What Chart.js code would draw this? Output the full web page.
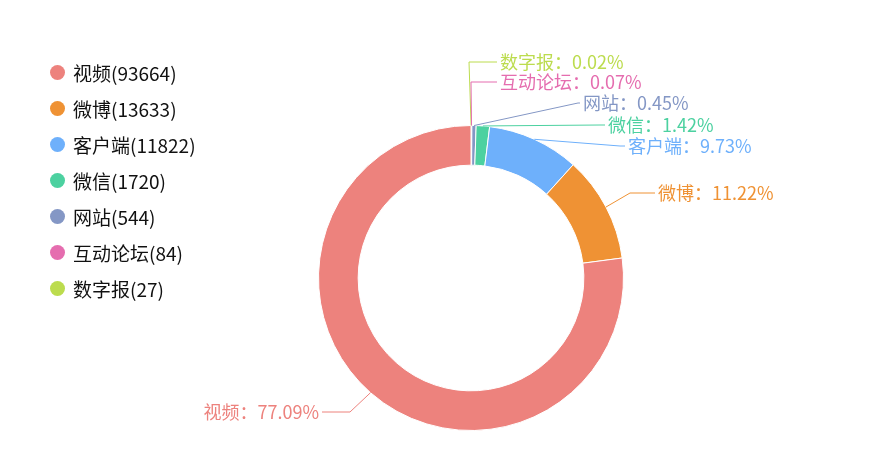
<!DOCTYPE html>
<html><head><meta charset="utf-8">
<script src="https://cdn.jsdelivr.net/npm/chart.js@4"></script>
<style>
body{margin:0;background:#fff;font-family:"Noto Sans CJK SC",sans-serif}
#wrap{position:relative;width:879px;height:470px}
#legend{position:absolute;left:50px;top:54px;font-size:19px;color:#111}
#legend div{height:36px;display:flex;align-items:center}
#legend span.dot{width:15px;height:15px;border-radius:50%;display:inline-block;margin-right:8px}
</style></head>
<body><div id="wrap"><canvas id="c" width="879" height="470"></canvas><div id="legend"></div></div>
<script>
const categories=["视频","微博","客户端","微信","网站","互动论坛","数字报"];
const values=[93664,13633,11822,1720,544,84,27];
const percents=["77.09%","11.22%","9.73%","1.42%","0.45%","0.07%","0.02%"];
const colors=["#ED827D","#EF9234","#6EB0FB","#4CD1A0","#8497C5","#E56DAF","#BCDC4E"];
const labelLayout=[
 {elbow:[350,412],end:[322,412],align:"right"},
 {elbow:[630,193],end:[655,193],align:"left"},
 {elbow:[620,146],end:[625,146],align:"left"},
 {elbow:[600,125],end:[605,125],align:"left"},
 {elbow:[578,103],end:[580,103],align:"left"},
 {elbow:[471,82],end:[497,82],align:"left"},
 {elbow:[469,62],end:[497,62],align:"left"}
];
const lg=document.getElementById('legend');
categories.forEach((c,i)=>{const d=document.createElement('div');d.innerHTML=`<span class="dot" style="background:${colors[i]}"></span>${c}(${values[i]})`;lg.appendChild(d);});
// drawn clockwise from top in reverse order
const order=categories.map((_,i)=>categories.length-1-i);
const labelPlugin={id:'lbl',afterDraw(chart){
 const ctx=chart.ctx;const meta=chart.getDatasetMeta(0);
 ctx.save();ctx.font='18px "Noto Sans CJK SC"';ctx.textBaseline='middle';ctx.lineWidth=1;
 meta.data.forEach((arc,j)=>{
  const i=order[j];
  const a=(arc.startAngle+arc.endAngle)/2;const r=arc.outerRadius;
  const p0=[arc.x+Math.cos(a)*r,arc.y+Math.sin(a)*r];
  const L=labelLayout[i];ctx.strokeStyle=colors[i];ctx.fillStyle=colors[i];
  ctx.beginPath();ctx.moveTo(...p0);ctx.lineTo(...L.elbow);ctx.lineTo(...L.end);ctx.stroke();
  ctx.textAlign=L.align;ctx.fillText(categories[i]+"："+percents[i],L.end[0]+(L.align==='left'?3:-3),L.end[1]);
 });ctx.restore();}};
new Chart(document.getElementById('c'),{type:'doughnut',
 data:{labels:order.map(i=>categories[i]),datasets:[{data:order.map(i=>values[i]),backgroundColor:order.map(i=>colors[i]),borderColor:'#fff',borderWidth:1,hoverOffset:0}]},
 options:{responsive:false,animation:false,cutout:'74%',
  layout:{padding:{left:318,right:255,top:125,bottom:39}},
  plugins:{legend:{display:false},tooltip:{enabled:false}}},
 plugins:[labelPlugin]});
</script></body></html>
